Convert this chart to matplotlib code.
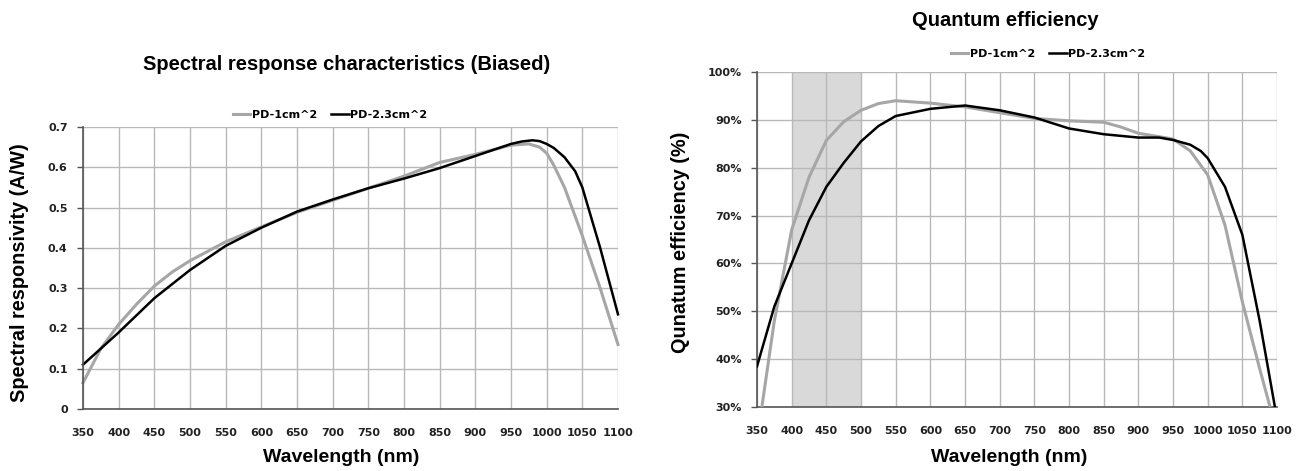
import numpy as np
import matplotlib
matplotlib.use('Agg')
import matplotlib.pyplot as plt
from matplotlib.ticker import FuncFormatter

plt.rcParams['font.family'] = ['Liberation Sans', 'DejaVu Sans']

# spectral responsivity (A/W)
sr_wl_1 = [350, 375, 400, 425, 450, 475, 500, 550, 600, 650, 700, 750, 800, 850, 900, 950, 975, 990, 1000, 1010, 1025, 1050, 1075, 1100]
sr_pd1 = [0.065, 0.15, 0.21, 0.26, 0.305, 0.34, 0.368, 0.415, 0.452, 0.488, 0.518, 0.548, 0.578, 0.612, 0.632, 0.655, 0.658, 0.650, 0.635, 0.605, 0.55, 0.43, 0.30, 0.16]
sr_wl_2 = [350, 375, 400, 450, 500, 550, 600, 650, 700, 750, 800, 850, 900, 950, 965, 980, 990, 1000, 1010, 1025, 1040, 1050, 1060, 1075, 1100]
sr_pd23 = [0.11, 0.15, 0.19, 0.275, 0.345, 0.405, 0.45, 0.49, 0.52, 0.548, 0.572, 0.598, 0.628, 0.658, 0.664, 0.667, 0.665, 0.658, 0.648, 0.625, 0.59, 0.55, 0.49, 0.40, 0.235]

# quantum efficiency (%)
qe_wl_1 = [357, 375, 400, 425, 450, 475, 500, 525, 550, 600, 650, 700, 750, 800, 850, 875, 900, 950, 975, 1000, 1025, 1050, 1075, 1090]
qe_pd1 = [30, 48, 67, 78, 85.7, 89.6, 92, 93.4, 94, 93.5, 92.7, 91.5, 90.3, 89.8, 89.5, 88.5, 87.2, 86, 83.5, 78.5, 68, 52, 38, 30]
qe_wl_2 = [350, 375, 400, 425, 450, 475, 500, 525, 550, 600, 650, 700, 750, 800, 850, 900, 930, 950, 975, 990, 1000, 1025, 1050, 1075, 1097]
qe_pd23 = [38.5, 51, 60, 69, 76, 81, 85.5, 88.7, 90.8, 92.3, 93, 92, 90.5, 88.2, 87, 86.3, 86.3, 85.8, 84.8, 83.5, 82, 76, 66, 48, 30]

shade_band = (400, 500)
x_ticks = list(range(350, 1101, 50))

GRAY = '#a6a6a6'
GRID = '#b8b8b8'
W, H = 1298.0, 471.0

fig = plt.figure(figsize=(12.98, 4.71), dpi=100)
ax1 = fig.add_axes([83 / W, 1 - 409 / H, 535 / W, 282 / H])
ax2 = fig.add_axes([757 / W, 1 - 407 / H, 520 / W, 335 / H])


def style(ax, xlabel_x, xlabel_y):
	ax.set_xlim(350, 1100)
	ax.set_xticks(x_ticks)
	ax.grid(True, color=GRID, linewidth=1.0)
	ax.set_axisbelow(True)
	for s in ['top', 'right']:
		ax.spines[s].set_visible(False)
	for s in ['left', 'bottom']:
		ax.spines[s].set_color('#555555')
		ax.spines[s].set_linewidth(1.2)
	ax.tick_params(axis='y', length=4, width=1, color='#555555', pad=7)
	ax.tick_params(axis='x', length=0, pad=14)
	for lbl in ax.get_xticklabels() + ax.get_yticklabels():
		lbl.set_fontweight('bold')
		lbl.set_fontsize(8)
		lbl.set_fontfamily('DejaVu Sans')
		lbl.set_color('#222222')
	ax.set_xlabel("Wavelength (nm)", fontsize=14, fontweight='bold', va='center')
	ax.xaxis.set_label_coords(xlabel_x / W, 1 - xlabel_y / H, transform=fig.transFigure)


leg_kw = dict(loc='center', bbox_transform=fig.transFigure, ncol=2, frameon=False,
			  handlelength=1.55, handletextpad=0.15, columnspacing=1.3,
			  prop={'family': 'DejaVu Sans', 'weight': 'bold', 'size': 8})

# left: spectral responsivity
ax1.plot(sr_wl_1, sr_pd1, color=GRAY, lw=2.2, label='PD-1cm^2', clip_on=False)
ax1.plot(sr_wl_2, sr_pd23, color='black', lw=1.8, label='PD-2.3cm^2', clip_on=False)
ax1.set_ylim(0, 0.7)
ax1.set_yticks(np.arange(0, 0.71, 0.1))
ax1.yaxis.set_major_formatter(FuncFormatter(lambda v, p: '0' if abs(v) < 1e-9 else '%.1f' % v))
style(ax1, 341, 458)
ax1.set_ylabel("Spectral responsivity (A/W)", fontsize=14.3, fontweight='bold', va='center')
ax1.yaxis.set_label_coords(20 / W, 1 - 273 / H, transform=fig.transFigure)
fig.text(347 / W, 1 - 64 / H, "Spectral response characteristics (Biased)", ha='center', va='center', fontsize=14.5, fontweight='bold')
ax1.legend(bbox_to_anchor=(330 / W, 1 - 115 / H), **leg_kw)

# right: quantum efficiency
ax2.axvspan(*shade_band, color='#d9d9d9', zorder=0.2, lw=0)
ax2.plot(qe_wl_1, qe_pd1, color=GRAY, lw=2.2, label='PD-1cm^2', zorder=3)
ax2.plot(qe_wl_2, qe_pd23, color='black', lw=1.8, label='PD-2.3cm^2', zorder=3)
ax2.set_ylim(30, 100)
ax2.set_yticks(range(30, 101, 10))
ax2.yaxis.set_major_formatter(FuncFormatter(lambda v, p: '%d%%' % v))
style(ax2, 1009, 457)
ax2.set_ylabel("Qunatum efficiency (%)", fontsize=14.3, fontweight='bold', va='center')
ax2.yaxis.set_label_coords(681 / W, 1 - 242 / H, transform=fig.transFigure)
fig.text(1005 / W, 1 - 21 / H, "Quantum efficiency", ha='center', va='center', fontsize=14.5, fontweight='bold')
ax2.legend(bbox_to_anchor=(1048 / W, 1 - 54 / H), **leg_kw)

plt.savefig("out.png", dpi=100)
